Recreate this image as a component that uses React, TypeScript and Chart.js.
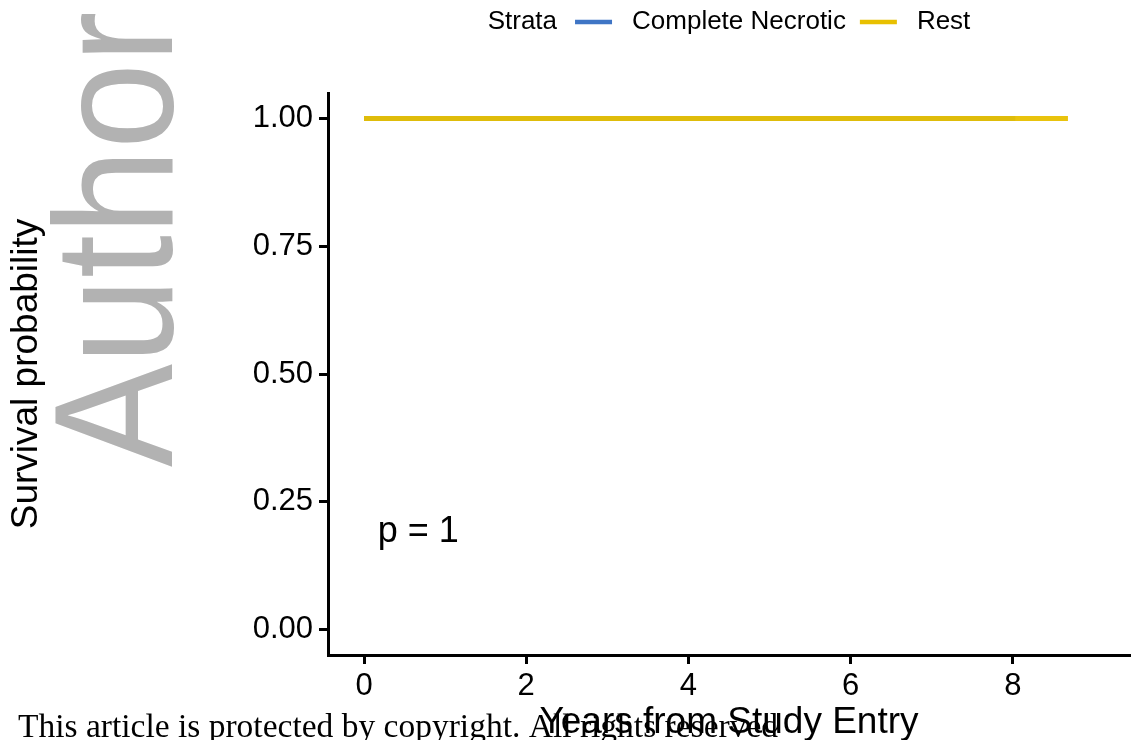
import React, { useEffect, useRef } from "react";
import { Chart, registerables } from "chart.js";

Chart.register(...registerables);

// ---- data ----
const strataLabels = ["Complete Necrotic", "Rest"];
const timesNecrotic = [0, 8.03];
const survNecrotic = [1, 1];
const timesRest = [0, 8.68];
const survRest = [1, 1];
const xTicks = [0, 2, 4, 6, 8];
const yTicks = [0, 0.25, 0.5, 0.75, 1];
const pValueText = "p = 1";
const legendTitle = "Strata";
const xTitle = "Years from Study Entry";
const yTitle = "Survival probability";
const watermarkText = "Author";
const copyrightText = "This article is protected by copyright. All rights reserved";

// ---- styles ----
const FAMILY = '"Liberation Sans", Arial, Helvetica, sans-serif';
const BLUE = "#3F75C5";
const YELLOW = "rgba(232,192,0,0.95)";
const YELLOW_SOLID = "#E8C000";

const overlayPlugin = {
  id: "overlay",
  afterDraw(chart: any) {
    const ctx = chart.ctx as CanvasRenderingContext2D;
    const xs = chart.scales.x;
    const ys = chart.scales.y;

    // p-value annotation
    ctx.save();
    ctx.fillStyle = "#000";
    ctx.font = `36px ${FAMILY}`;
    ctx.textBaseline = "alphabetic";
    ctx.textAlign = "left";
    ctx.fillText(pValueText, xs.getPixelForValue(0.17), ys.getPixelForValue(0.172));
    ctx.restore();

    // legend
    ctx.save();
    ctx.font = `26px ${FAMILY}`;
    ctx.fillStyle = "#000";
    ctx.textBaseline = "middle";
    ctx.textAlign = "left";
    const ly = 22;
    const swatch = 37;
    const titleW = ctx.measureText(legendTitle).width;
    const labelWs = strataLabels.map((l) => ctx.measureText(l).width);
    const gapTitle = 18, gapSw = 20, gapItem = 14;
    let total = titleW + gapTitle;
    labelWs.forEach((w, i) => {
      total += swatch + gapSw + w + (i < labelWs.length - 1 ? gapItem : 0);
    });
    const centerX = (chart.chartArea.left + chart.chartArea.right) / 2;
    let x = centerX - total / 2;
    ctx.fillText(legendTitle, x, ly);
    x += titleW + gapTitle;
    chart.data.datasets.forEach((ds: any, i: number) => {
      ctx.strokeStyle = i === 1 ? YELLOW_SOLID : ds.borderColor;
      ctx.lineWidth = 4.5;
      ctx.beginPath();
      ctx.moveTo(x, ly);
      ctx.lineTo(x + swatch, ly);
      ctx.stroke();
      x += swatch + gapSw;
      ctx.fillText(ds.label, x, ly);
      x += labelWs[i] + gapItem;
    });
    ctx.restore();

    // watermark
    ctx.save();
    ctx.translate(172, 467);
    ctx.rotate(-Math.PI / 2);
    ctx.scale(0.92, 1);
    ctx.font = `168px ${FAMILY}`;
    ctx.fillStyle = "#B2B2B2";
    ctx.textBaseline = "alphabetic";
    ctx.textAlign = "left";
    ctx.fillText(watermarkText, 0, 0);
    ctx.restore();

    // copyright line
    ctx.save();
    ctx.font = `33.5px "Liberation Serif", "Times New Roman", serif`;
    ctx.fillStyle = "#000";
    ctx.textBaseline = "alphabetic";
    ctx.textAlign = "left";
    ctx.fillText(copyrightText, 18, 737);
    ctx.restore();
  },
};

export default function App() {
  const ref = useRef<HTMLCanvasElement | null>(null);
  useEffect(() => {
    if (!ref.current) return;
    const chart = new Chart(ref.current, {
      type: "line",
      data: {
        datasets: [
          {
            label: strataLabels[0],
            data: timesNecrotic.map((t, i) => ({ x: t, y: survNecrotic[i] })),
            borderColor: BLUE,
            backgroundColor: BLUE,
            borderWidth: 5,
            pointRadius: 0,
            stepped: "after",
            order: 1,
          },
          {
            label: strataLabels[1],
            data: timesRest.map((t, i) => ({ x: t, y: survRest[i] })),
            borderColor: YELLOW,
            backgroundColor: YELLOW,
            borderWidth: 5,
            pointRadius: 0,
            stepped: "after",
            order: 0,
          },
        ],
      } as any,
      options: {
        animation: false,
        responsive: false,
        maintainAspectRatio: false,
        layout: { padding: { top: 93, right: 2, left: 0, bottom: 0 } },
        plugins: { legend: { display: false }, tooltip: { enabled: false } },
        scales: {
          x: {
            type: "linear",
            min: -0.444,
            max: 9.445,
            afterFit(s: any) {
              s.height = 85;
            },
            afterBuildTicks(s: any) {
              s.ticks = xTicks.map((v) => ({ value: v }));
            },
            grid: {
              drawOnChartArea: false,
              drawTicks: true,
              tickLength: 9,
              tickWidth: 3,
              tickColor: "#000",
            },
            border: { display: true, color: "#000", width: 3 },
            ticks: {
              color: "#000",
              font: { size: 31, family: FAMILY },
              padding: 4,
              maxRotation: 0,
              autoSkip: false,
              callback: (v: any) => String(v),
            },
            title: {
              display: true,
              text: xTitle,
              color: "#000",
              font: { size: 37, family: FAMILY, lineHeight: 1.1 },
              padding: { top: 0, bottom: -3 },
            },
          },
          y: {
            type: "linear",
            min: -0.05,
            max: 1.05,
            afterFit(s: any) {
              s.width = 328;
            },
            afterBuildTicks(s: any) {
              s.ticks = yTicks.map((v) => ({ value: v }));
            },
            grid: {
              drawOnChartArea: false,
              drawTicks: true,
              tickLength: 9,
              tickWidth: 3,
              tickColor: "#000",
            },
            border: { display: true, color: "#000", width: 3 },
            ticks: {
              color: "#000",
              font: { size: 31, family: FAMILY },
              padding: 6,
              autoSkip: false,
              callback: (v: any) => Number(v).toFixed(2),
            },
            title: {
              display: true,
              text: yTitle,
              color: "#000",
              font: { size: 37, family: FAMILY, lineHeight: 1.1 },
              padding: { top: 6, bottom: 0 },
            },
          },
        },
      } as any,
      plugins: [overlayPlugin],
    });
    return () => chart.destroy();
  }, []);
  return (
    <div style={{ position: "fixed", left: 0, top: 0, width: 1132, height: 740, background: "#fff" }}>
      <canvas ref={ref} width={1132} height={740} style={{ width: 1132, height: 740, display: "block" }} />
    </div>
  );
}
